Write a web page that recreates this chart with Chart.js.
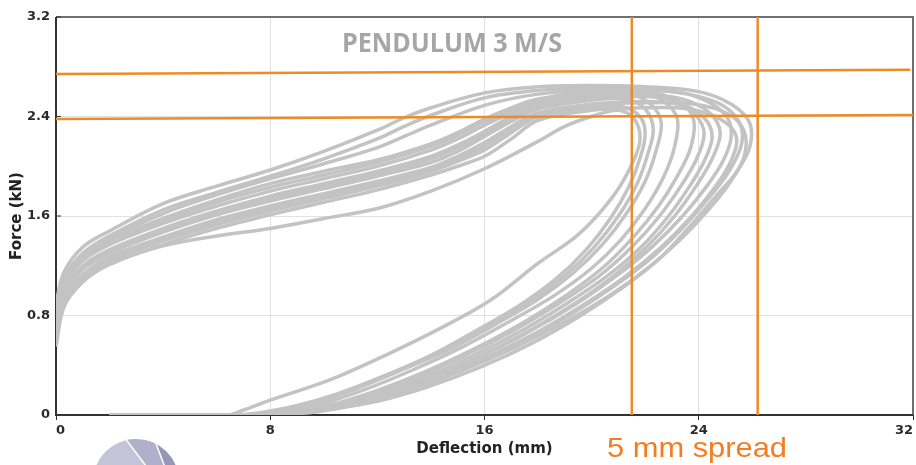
<!DOCTYPE html>
<html>
<head>
<meta charset="utf-8">
<script src="https://cdn.jsdelivr.net/npm/chart.js@4.4.0/dist/chart.umd.min.js"></script>
<style>
  html, body { margin: 0; padding: 0; background: #fff; overflow: hidden; }
  #wrap { width: 916px; height: 465px; position: relative; }
</style>
</head>
<body>
<div id="wrap"><canvas id="chart" width="916" height="465"></canvas></div>
<script>
// Axis ticks
const xTicks = [0, 8, 16, 24, 32];
const yTicks = [0, 0.8, 1.6, 2.4, 3.2];

// Hysteresis loops, [deflection mm, force kN]
const loopT1 = [[0,0.9],[0.3,1.15],[1,1.35],[2,1.48],[4,1.7],[6,1.84],[8,1.97],[10,2.12],[12,2.29],[13,2.39],[14,2.47],[16,2.59],[18,2.64],[20,2.65],[22,2.64],[24,2.6],[25.2,2.5],[25.9,2.35],[25.9,2.15],[25.4,1.95],[24.6,1.75],[23.6,1.5],[22.5,1.25],[21.2,1.03],[19.6,0.8],[17.8,0.58],[15.8,0.38],[13.8,0.22],[12,0.11],[10.3,0.05],[8.6,0.015],[7.2,0],[2,0]];
const loopT2 = [[0,0.85],[0.3,1.1],[1,1.3],[2,1.44],[4,1.65],[6,1.79],[8,1.92],[10,2.06],[12,2.22],[13,2.32],[14,2.41],[16,2.55],[18,2.61],[20,2.63],[22,2.62],[23.6,2.58],[24.8,2.5],[25.5,2.36],[25.6,2.18],[25.1,1.95],[24.2,1.7],[23.2,1.46],[22,1.22],[20.6,1.0],[19,0.78],[17.1,0.56],[15.1,0.37],[13.2,0.21],[11.4,0.1],[9.8,0.04],[8.3,0.01],[7,0],[2,0]];
const loopT3 = [[0,0.83],[0.3,1.1],[1,1.29],[2,1.42],[4,1.62],[6,1.77],[8,1.9],[10,2.02],[12,2.15],[13,2.24],[14,2.33],[16,2.49],[18,2.58],[20,2.61],[22,2.6],[23.2,2.53],[23.8,2.38],[23.7,2.15],[23.2,1.92],[22.5,1.68],[21.6,1.44],[20.5,1.2],[19.1,0.97],[17.5,0.75],[15.6,0.53],[13.7,0.34],[11.9,0.19],[10.2,0.08],[8.5,0.02],[7.1,0],[2,0]];
const loopM1 = [[0,0.8],[0.3,1.08],[1,1.27],[2,1.4],[4,1.58],[6,1.73],[8,1.86],[10,1.96],[12,2.05],[14,2.18],[15,2.27],[16,2.38],[17,2.47],[18,2.54],[20,2.6],[22,2.61],[23.4,2.59],[24.5,2.5],[25.1,2.38],[25.2,2.22],[24.9,2.04],[24.3,1.84],[23.4,1.6],[22.3,1.36],[21,1.13],[19.4,0.89],[17.5,0.65],[15.5,0.44],[13.5,0.26],[11.7,0.13],[10,0.05],[8.4,0.01],[7,0],[2,0]];
const loopM1b = [[0,0.78],[0.3,1.06],[1,1.26],[2,1.39],[4,1.56],[6,1.71],[8,1.83],[10,1.93],[12,2.03],[14,2.16],[15,2.25],[16,2.36],[17,2.45],[18,2.52],[20,2.58],[21.8,2.59],[22.7,2.52],[23.2,2.38],[23.1,2.16],[22.7,1.92],[22,1.66],[21.1,1.41],[20,1.18],[18.6,0.96],[17,0.76],[15.2,0.55],[13.4,0.37],[11.6,0.21],[9.9,0.09],[8.3,0.02],[7,0],[2,0]];
const loopM2 = [[0,0.75],[0.3,1.04],[1,1.24],[2,1.37],[4,1.54],[6,1.68],[8,1.8],[10,1.9],[12,2.0],[14,2.13],[15,2.22],[16,2.33],[17,2.43],[18,2.5],[20,2.57],[21.4,2.58],[22.2,2.5],[22.6,2.35],[22.4,2.12],[22,1.88],[21.3,1.62],[20.4,1.37],[19.3,1.14],[18,0.93],[16.5,0.74],[14.8,0.54],[13,0.37],[11.2,0.21],[9.5,0.09],[8,0.02],[6.8,0],[2,0]];
const loopM3 = [[0,0.7],[0.3,1.0],[1,1.2],[2,1.33],[4,1.5],[6,1.64],[8,1.76],[10,1.86],[12,1.96],[14,2.08],[15,2.17],[16,2.28],[17,2.4],[18,2.48],[20,2.55],[22,2.57],[23.4,2.54],[24.4,2.43],[24.8,2.27],[24.5,2.06],[23.9,1.84],[23.1,1.6],[22.1,1.36],[20.9,1.13],[19.4,0.9],[17.6,0.67],[15.7,0.46],[13.8,0.28],[12,0.14],[10.3,0.06],[8.7,0.015],[7.2,0],[2,0]];
const loopM3b = [[0,0.68],[0.3,0.98],[1,1.18],[2,1.31],[4,1.48],[6,1.62],[8,1.74],[10,1.84],[12,1.94],[14,2.06],[15,2.15],[16,2.26],[17,2.38],[18,2.47],[20,2.54],[22,2.56],[23.2,2.52],[23.9,2.41],[24.2,2.26],[23.9,2.05],[23.3,1.83],[22.5,1.59],[21.5,1.35],[20.3,1.12],[18.8,0.9],[17.1,0.68],[15.2,0.47],[13.3,0.29],[11.5,0.15],[9.9,0.06],[8.3,0.015],[7,0],[2,0]];
const loopM4 = [[0,0.65],[0.3,0.97],[1,1.17],[2,1.3],[4,1.47],[6,1.61],[8,1.72],[10,1.82],[12,1.92],[14,2.03],[15,2.12],[16,2.24],[17,2.36],[18,2.46],[20,2.53],[21.3,2.54],[22,2.46],[22.3,2.3],[22.1,2.1],[21.7,1.86],[21,1.6],[20.1,1.35],[19,1.12],[17.6,0.9],[16,0.7],[14.3,0.5],[12.5,0.33],[10.8,0.18],[9.1,0.07],[7.7,0.015],[6.7,0],[2,0]];
const loopM5 = [[0,0.62],[0.3,0.94],[1,1.13],[2,1.27],[4,1.43],[6,1.57],[8,1.68],[10,1.78],[12,1.88],[14,1.99],[15,2.08],[16,2.19],[17,2.32],[18,2.43],[20,2.5],[22,2.52],[23.4,2.49],[24.2,2.39],[24.5,2.24],[24.2,2.04],[23.6,1.82],[22.8,1.58],[21.8,1.34],[20.6,1.12],[19.1,0.9],[17.4,0.68],[15.5,0.47],[13.6,0.29],[11.8,0.15],[10.1,0.06],[8.5,0.015],[7.1,0],[2,0]];
const loopM5b = [[0,0.6],[0.3,0.92],[1,1.12],[2,1.25],[4,1.42],[6,1.55],[8,1.66],[10,1.76],[12,1.86],[14,1.97],[15,2.06],[16,2.16],[17,2.3],[18,2.42],[20,2.49],[22,2.51],[23.8,2.5],[25.1,2.42],[25.7,2.28],[25.7,2.08],[25.2,1.88],[24.4,1.66],[23.4,1.43],[22.2,1.2],[20.8,0.98],[19.1,0.76],[17.2,0.55],[15.2,0.36],[13.2,0.2],[11.4,0.09],[9.7,0.025],[8,0],[2,0]];
const loopM6 = [[0,0.58],[0.3,0.9],[1,1.1],[2,1.24],[4,1.4],[6,1.53],[8,1.64],[10,1.74],[12,1.84],[14,1.96],[15,2.04],[16,2.13],[17,2.27],[18,2.4],[20,2.47],[21.1,2.48],[21.8,2.4],[22,2.26],[21.8,2.06],[21.4,1.84],[20.7,1.58],[19.8,1.33],[18.7,1.1],[17.3,0.88],[15.7,0.68],[14,0.48],[12.2,0.31],[10.5,0.17],[8.9,0.07],[7.5,0.015],[6.6,0],[2,0]];
const loopM7 = [[0,0.55],[0.3,0.87],[1,1.07],[2,1.21],[4,1.37],[6,1.5],[8,1.61],[10,1.71],[12,1.81],[14,1.93],[15,2.0],[16,2.08],[17,2.22],[18,2.37],[20,2.45],[22,2.47],[23.6,2.46],[24.8,2.38],[25.4,2.24],[25.2,2.04],[24.6,1.83],[23.7,1.59],[22.6,1.35],[21.3,1.12],[19.8,0.9],[18,0.67],[16,0.46],[14,0.28],[12.2,0.14],[10.5,0.06],[8.8,0.015],[7.3,0],[2,0]];
const loopO = [[0,0.6],[0.3,0.9],[1,1.1],[2,1.22],[4,1.36],[6,1.44],[8,1.5],[10,1.58],[12,1.66],[14,1.8],[16,1.98],[18,2.2],[19,2.32],[20,2.4],[21,2.45],[21.6,2.38],[21.8,2.2],[21.4,1.97],[20.7,1.73],[19.5,1.45],[18,1.22],[16.2,0.92],[14.2,0.68],[12.2,0.47],[10.2,0.28],[8,0.12],[7,0.04],[6.4,0],[2,0]];

// Orange marker lines
const upperLevel = [[0, 2.742], [31.9, 2.775]];
const lowerLevel = [[0, 2.38], [32, 2.412]];
const spreadLeft = [[21.5, 0], [21.5, 3.2]];
const spreadRight = [[26.2, 0], [26.2, 3.2]];

const GRAY = '#c3c3c3';
const ORANGE = '#ee8b27';
const TICK_FONT = { family: 'DejaVu Sans', weight: 'bold', size: 13 };
const TITLE_FONT = { family: 'DejaVu Sans', weight: 'bold', size: 15 };

const toPts = arr => arr.map(p => ({ x: p[0], y: p[1] }));

const datasets = [];
[upperLevel, lowerLevel, spreadLeft, spreadRight].forEach(l => {
    datasets.push({
        data: toPts(l), borderColor: ORANGE, borderWidth: 2.5,
        pointRadius: 0, showLine: true, tension: 0, order: 0
    });
});
[loopT1, loopT2, loopT3, loopM1, loopM1b, loopM2, loopM3, loopM3b, loopM4,
 loopM5, loopM5b, loopM6, loopM7, loopO].forEach(l => {
    datasets.push({
        data: toPts(l), borderColor: GRAY, borderWidth: 3.5,
        pointRadius: 0, showLine: true, tension: 0.35, order: 1
    });
});

// fills text into a given width (squeezes the font horizontally)
function fitText(ctx, txt, x, y, w, font, color) {
    ctx.save();
    ctx.font = font;
    const m = ctx.measureText(txt).width;
    ctx.translate(x, y);
    ctx.scale(w / m, 1);
    ctx.fillStyle = color;
    ctx.textBaseline = 'alphabetic';
    ctx.fillText(txt, 0, 0);
    ctx.restore();
}

const framePlugin = {
    id: 'frame',
    beforeDatasetsDraw(chart) {
        const { ctx, chartArea: a } = chart;
        ctx.save();
        ctx.lineWidth = 2;
        ctx.strokeStyle = '#707070';
        ctx.beginPath();
        ctx.moveTo(a.left, a.top);
        ctx.lineTo(a.right, a.top);
        ctx.lineTo(a.right, a.bottom);
        ctx.stroke();
        ctx.strokeStyle = '#333';
        ctx.beginPath();
        ctx.moveTo(a.left, a.top);
        ctx.lineTo(a.left, a.bottom);
        ctx.lineTo(a.right, a.bottom);
        ctx.stroke();
        // small inward ticks on the force axis
        ctx.lineWidth = 1;
        yTicks.forEach(v => {
            const py = chart.scales.y.getPixelForValue(v);
            ctx.beginPath();
            ctx.moveTo(a.left, py);
            ctx.lineTo(a.left + 5, py);
            ctx.stroke();
        });
        ctx.restore();
    },
    afterDraw(chart) {
        const { ctx } = chart;
        fitText(ctx, 'PENDULUM 3 M/S', 342, 52, 220, 'bold 26px "Open Sans"', '#a6a6a6');
        fitText(ctx, '5 mm spread', 607, 457, 180, '28px "Liberation Sans"', '#f47d22');

        // logo peeking in at the bottom
        ctx.save();
        ctx.beginPath();
        ctx.arc(136, 482, 43, 0, Math.PI * 2);
        ctx.clip();
        ctx.fillStyle = '#c4c4d8';
        ctx.fillRect(90, 430, 100, 60);
        ctx.fillStyle = '#b0b0cb';
        ctx.beginPath();
        ctx.moveTo(125, 438); ctx.lineTo(155, 441); ctx.lineTo(166, 470); ctx.lineTo(149, 470);
        ctx.closePath(); ctx.fill();
        ctx.fillStyle = '#9696b8';
        ctx.beginPath();
        ctx.moveTo(155, 441); ctx.lineTo(185, 450); ctx.lineTo(185, 470); ctx.lineTo(166, 470);
        ctx.closePath(); ctx.fill();
        ctx.strokeStyle = '#ffffff';
        ctx.lineWidth = 1.5;
        ctx.beginPath();
        ctx.moveTo(125, 438); ctx.lineTo(149, 470);
        ctx.moveTo(155, 441); ctx.lineTo(166, 470);
        ctx.stroke();
        ctx.restore();
    }
};

new Chart(document.getElementById('chart'), {
    type: 'scatter',
    data: { datasets },
    plugins: [framePlugin],
    options: {
        responsive: false,
        animation: false,
        devicePixelRatio: 1,
        layout: { padding: { top: 17, right: 2, bottom: 0, left: 0 } },
        plugins: { legend: { display: false }, tooltip: { enabled: false } },
        scales: {
            x: {
                type: 'linear', min: 0, max: 32,
                afterBuildTicks: s => { s.ticks = xTicks.map(v => ({ value: v })); },
                afterFit: s => { s.height = 50; },
                grid: { color: '#e1e1e1', tickColor: '#333', tickLength: 5 },
                border: { display: false },
                ticks: { align: 'inner', maxRotation: 0, padding: 3, font: TICK_FONT, color: '#2a2a2a' },
                title: { display: true, text: 'Deflection (mm)', font: TITLE_FONT, color: '#222', padding: { top: 0, bottom: 7 } }
            },
            y: {
                type: 'linear', min: 0, max: 3.2,
                afterBuildTicks: s => { s.ticks = yTicks.map(v => ({ value: v })); },
                afterFit: s => { s.width = 56; },
                grid: { color: '#e1e1e1', drawTicks: false },
                border: { display: false },
                ticks: {
                    padding: 6, font: TICK_FONT, color: '#2a2a2a',
                    callback: v => (v === 0 ? '0' : v.toFixed(1))
                },
                title: { display: true, text: 'Force (kN)', font: TITLE_FONT, color: '#222', padding: { top: 8, bottom: 0 } }
            }
        }
    }
});
</script>
</body>
</html>
